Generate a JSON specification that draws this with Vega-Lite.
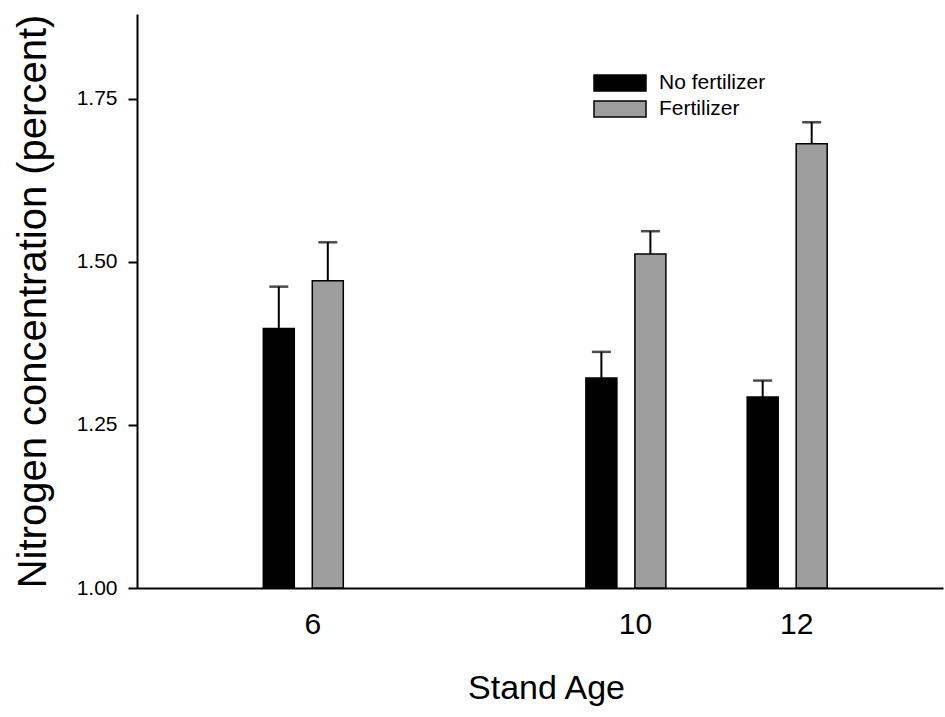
{
  "$schema": "https://vega.github.io/schema/vega-lite/v6.json",
  "autosize": "none",
  "width": 806,
  "height": 574,
  "padding": {"left": 137, "top": 14, "right": 2, "bottom": 129},
  "background": "white",
  "config": {
    "view": {"stroke": null},
    "font": "Liberation Sans",
    "axis": {"grid": false, "domainColor": "black", "domainWidth": 2, "labelColor": "black", "titleColor": "black", "titleFontWeight": "normal", "labelFont": "Liberation Sans", "titleFont": "Liberation Sans"}
  },
  "data": {
    "values": [
      {"age": 6, "group": "No fertilizer", "value": 1.398, "upper": 1.462},
      {"age": 10, "group": "No fertilizer", "value": 1.322, "upper": 1.362},
      {"age": 12, "group": "No fertilizer", "value": 1.293, "upper": 1.318},
      {"age": 6, "group": "Fertilizer", "value": 1.471, "upper": 1.530},
      {"age": 10, "group": "Fertilizer", "value": 1.512, "upper": 1.547},
      {"age": 12, "group": "Fertilizer", "value": 1.681, "upper": 1.714}
    ]
  },
  "encoding": {
    "x": {
      "field": "age", "type": "quantitative",
      "scale": {"domain": [4, 13.87], "nice": false, "zero": false},
      "axis": {"values": [6, 10, 12], "ticks": false, "tickSize": 0, "labelPadding": 45, "labelBaseline": "alphabetic", "labelFontSize": 30, "labelOffset": 9, "title": "Stand Age", "titleFontSize": 34, "titleX": 409, "titleY": 110, "titleBaseline": "alphabetic", "titleAnchor": "start", "titleAlign": "center"}
    },
    "y": {
      "field": "value", "type": "quantitative",
      "scale": {"domain": [1, 1.88], "nice": false, "zero": false},
      "axis": {"values": [1, 1.25, 1.5, 1.75], "format": ".2f", "tickSize": 9, "tickWidth": 2, "tickColor": "black", "labelPadding": 11, "labelFontSize": 21, "title": "Nitrogen concentration (percent)", "titleFontSize": 40, "titleAngle": -90, "titleX": -92, "titleY": 287, "titleBaseline": "alphabetic", "titleAlign": "center", "titleAnchor": "start"}
    }
  },
  "layer": [
    {
      "transform": [{"filter": "datum.group == 'No fertilizer'"}],
      "mark": {"type": "rule", "xOffset": -24.5, "strokeWidth": 2, "color": "black"},
      "encoding": {"y2": {"field": "upper"}}
    },
    {
      "transform": [{"filter": "datum.group == 'No fertilizer'"}],
      "mark": {"type": "tick", "orient": "horizontal", "xOffset": -24.5, "size": 19, "thickness": 2.5, "color": "black"},
      "encoding": {"y": {"field": "upper", "type": "quantitative"}}
    },
    {
      "transform": [{"filter": "datum.group == 'Fertilizer'"}],
      "mark": {"type": "rule", "xOffset": 24.5, "strokeWidth": 2, "color": "black"},
      "encoding": {"y2": {"field": "upper"}}
    },
    {
      "transform": [{"filter": "datum.group == 'Fertilizer'"}],
      "mark": {"type": "tick", "orient": "horizontal", "xOffset": 24.5, "size": 19, "thickness": 2.5, "color": "black"},
      "encoding": {"y": {"field": "upper", "type": "quantitative"}}
    },
    {
      "transform": [{"filter": "datum.group == 'No fertilizer'"}],
      "mark": {"type": "bar", "xOffset": -24.5, "size": 31, "stroke": "black", "strokeWidth": 1.5},
      "encoding": {
        "y2": {"datum": 1},
        "fill": {"field": "group", "type": "nominal",
          "scale": {"domain": ["No fertilizer", "Fertilizer"], "range": ["black", "#9e9e9e"]},
          "legend": {"title": null, "orient": "none", "legendX": 472, "legendY": 58, "symbolType": "M-2.6,-0.8H2.6V0.8H-2.6Z", "symbolSize": 400, "symbolStrokeColor": "black", "symbolStrokeWidth": 1.5, "symbolOpacity": 1, "labelFontSize": 21, "labelColor": "black", "labelOffset": 28, "rowPadding": 4, "padding": 0}
        }
      }
    },
    {
      "transform": [{"filter": "datum.group == 'Fertilizer'"}],
      "mark": {"type": "bar", "xOffset": 24.5, "size": 31, "stroke": "black", "strokeWidth": 1.5},
      "encoding": {
        "y2": {"datum": 1},
        "fill": {"field": "group", "type": "nominal"}
      }
    },
    {
      "data": {"values": [{}]},
      "mark": {"type": "rule", "color": "black", "strokeWidth": 2},
      "encoding": {"x": {"value": 0}, "x2": {"value": 806}, "y": {"datum": 1.88}}
    }
  ]
}
